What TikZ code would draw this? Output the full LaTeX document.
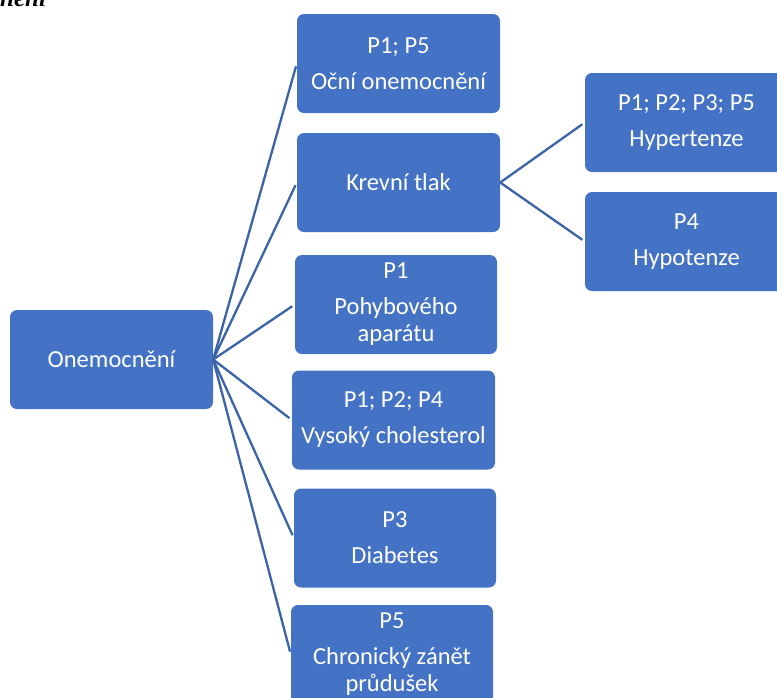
\documentclass[tikz,border=0pt]{standalone}
\usepackage{fontspec}
\setmainfont{Carlito}
\newfontfamily\headfont{Liberation Serif}
\definecolor{boxblue}{HTML}{4472C4}
\definecolor{linkblue}{HTML}{3A63A8}

\begin{document}
\begin{tikzpicture}[x=1pt,y=-1pt,
  box/.style={fill=boxblue, rounded corners=7pt, minimum width=203pt,
    minimum height=99pt, text=white, align=center, inner sep=0pt,
    font=\fontsize{24.5}{27}\selectfont},
  link/.style={draw=linkblue, line width=2.3pt, shorten >=3pt}]
\path[use as bounding box] (0,0) rectangle (777,697);
\clip (0,0) rectangle (777,697);

% heading fragment at the top edge
\node[anchor=base west, inner sep=0pt,
  font=\headfont\bfseries\itshape\fontsize{25}{28}\selectfont] (head) at (0,6) {nění};

% root and its branches
\node[box] (root) at (111.5,359.5) {Onemocnění};
\node[box] (eye)  at (398.5,63.5)  {P1; P5\\[9pt]Oční onemocnění};
\node[box] (bp)   at (398.5,182.5) {Krevní tlak};
\node[box, minimum width=202pt] (move) at (396,304.5) {P1\\[9pt]Pohybového\\aparátu};
\node[box] (chol) at (393.5,420)   {P1; P2; P4\\[9pt]Vysoký cholesterol};
\node[box, minimum width=202pt] (diab) at (395,538) {P3\\[9pt]Diabetes};
\node[box, minimum width=202pt] (bron) at (392,654.5) {P5\\[9pt]Chronický zánět\\průdušek};

% blood pressure sub-branches
\node[box] (hyper) at (686.5,122.5) {P1; P2; P3; P5\\[9pt]Hypertenze};
\node[box] (hypo)  at (686.5,241.5) {P4\\[9pt]Hypotenze};

\foreach \c in {eye,bp,move,chol,diab,bron}
  \draw[link] (root.east) -- (\c.west);
\draw[link] (bp.east) -- (hyper.west);
\draw[link] (bp.east) -- (hypo.west);
\end{tikzpicture}
\end{document}
